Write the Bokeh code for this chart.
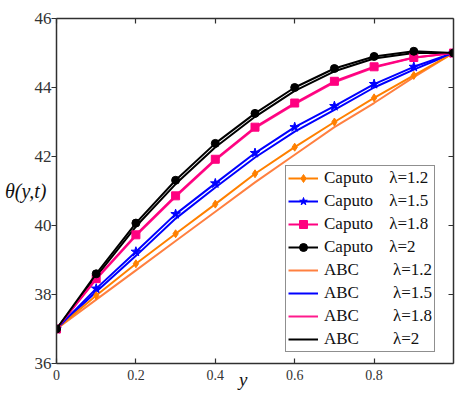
from bokeh.plotting import figure
from bokeh.models import (Range1d, LinearAxis, FixedTicker, Legend, LegendItem)
from bokeh.embed import file_html
from bokeh.resources import INLINE

# ---- data ----
y_vals = [0.0, 0.1, 0.2, 0.3, 0.4, 0.5, 0.6, 0.7, 0.8, 0.9, 1.0]

caputo_12 = [37.0, 37.97, 38.89, 39.76, 40.62, 41.50, 42.27, 43.00, 43.70, 44.35, 45.0]
caputo_15 = [37.0, 38.17, 39.24, 40.33, 41.22, 42.10, 42.85, 43.46, 44.10, 44.60, 45.0]
caputo_18 = [37.0, 38.46, 39.73, 40.86, 41.92, 42.85, 43.55, 44.18, 44.60, 44.87, 45.0]
caputo_20 = [37.0, 38.60, 40.07, 41.31, 42.38, 43.25, 44.00, 44.55, 44.90, 45.05, 45.0]

abc_12 = [37.0, 37.85, 38.70, 39.55, 40.40, 41.25, 42.05, 42.85, 43.55, 44.30, 45.0]
abc_15 = [37.0, 38.08, 39.12, 40.20, 41.10, 41.97, 42.72, 43.35, 44.00, 44.52, 45.0]
abc_18 = [37.0, 38.44, 39.70, 40.83, 41.89, 42.82, 43.52, 44.15, 44.58, 44.86, 45.0]
abc_20 = [37.0, 38.52, 39.97, 41.20, 42.27, 43.15, 43.90, 44.47, 44.84, 45.00, 45.0]

x_ticks = [0, 0.2, 0.4, 0.6, 0.8]
x_tick_labels = ["0", "0.2", "0.4", "0.6", "0.8"]
y_ticks = [36, 38, 40, 42, 44, 46]

caputo_labels = ["Caputo\u00a0\u00a0\u00a0\u2009\u03bb=1.2", "Caputo\u00a0\u00a0\u00a0\u2009\u03bb=1.5",
                 "Caputo\u00a0\u00a0\u00a0\u2009\u03bb=1.8", "Caputo\u00a0\u00a0\u00a0\u2009\u03bb=2"]
abc_labels = ["ABC" + "\u00a0" * 8 + "\u03bb=1.2", "ABC" + "\u00a0" * 8 + "\u03bb=1.5",
              "ABC" + "\u00a0" * 8 + "\u03bb=1.8", "ABC" + "\u00a0" * 8 + "\u03bb=2"]

y_axis_title = "\u03b8(y,t)"
x_axis_title = "y" + "\u00a0" * 5

# ---- styles ----
caputo_colors = ["#ff8000", "#0000ff", "#ff0080", "#000000"]
abc_colors = ["#ff8040", "#0000ff", "#ff1a8c", "#000000"]
markers = ["diamond", "star", "square", "circle"]
marker_sizes = [8, 10, 8, 8]

SERIF = "Liberation Serif"

p = figure(width=467, height=392, output_backend="svg", toolbar_location=None,
           x_range=Range1d(0, 1), y_range=Range1d(36, 46),
           min_border_left=56, min_border_right=14, min_border_top=18, min_border_bottom=28,
           x_axis_location=None, y_axis_location=None)
p.grid.visible = False
p.outline_line_color = None
p.background_fill_color = "white"
p.border_fill_color = "white"

axis_color = "#303030"

def style_axis(ax, tin, tout):
    ax.axis_line_color = axis_color
    ax.axis_line_width = 1.5
    ax.major_tick_line_color = axis_color
    ax.major_tick_line_width = 1.2
    ax.major_tick_in = tin
    ax.major_tick_out = tout
    ax.minor_tick_line_color = None
    ax.major_label_text_font = SERIF
    ax.major_label_text_color = "#333333"
    ax.axis_label_text_font = SERIF
    ax.axis_label_text_font_style = "italic"
    ax.axis_label_text_color = "#111111"

bottom = LinearAxis(ticker=FixedTicker(ticks=x_ticks), axis_label=x_axis_title)
bottom.major_label_overrides = {t: l for t, l in zip(x_ticks, x_tick_labels)}
style_axis(bottom, 5, 0)
bottom.major_label_text_font_size = "14px"
bottom.major_label_standoff = 6
bottom.axis_label_text_font_size = "19px"
bottom.axis_label_standoff = -14
p.add_layout(bottom, "below")

left = LinearAxis(ticker=FixedTicker(ticks=y_ticks), axis_label=y_axis_title)
style_axis(left, 0, 5)
left.major_label_text_font_size = "17px"
left.major_label_standoff = 0
left.axis_label_orientation = "horizontal"
left.axis_label_text_font_size = "20px"
left.axis_label_standoff = -15
p.add_layout(left, "left")

top = LinearAxis(ticker=FixedTicker(ticks=x_ticks))
style_axis(top, 5, 0)
top.major_label_text_font_size = "1px"
top.major_label_text_color = None
top.major_label_standoff = 0
p.add_layout(top, "above")

right = LinearAxis(ticker=FixedTicker(ticks=y_ticks))
style_axis(right, 5, 0)
right.major_label_text_font_size = "1px"
right.major_label_text_color = None
right.major_label_standoff = 0
p.add_layout(right, "right")

# ABC lines first (underneath)
abc_renderers = []
for data, col in zip([abc_12, abc_15, abc_18, abc_20], abc_colors):
    r = p.line(y_vals, data, line_color=col, line_width=2)
    abc_renderers.append(r)

caputo_renderers = []
for data, col, mk, ms in zip([caputo_12, caputo_15, caputo_18, caputo_20],
                             caputo_colors, markers, marker_sizes):
    rl = p.line(y_vals, data, line_color=col, line_width=2)
    rs = p.scatter(y_vals, data, marker=mk, size=ms, fill_color=col, line_color=col)
    caputo_renderers.append([rl, rs])

items = []
for lab, rr in zip(caputo_labels, caputo_renderers):
    items.append(LegendItem(label=lab, renderers=rr))
for lab, r in zip(abc_labels, abc_renderers):
    items.append(LegendItem(label=lab, renderers=[r]))

legend = Legend(items=items, location=(229, 11))
legend.label_text_font = SERIF
legend.label_text_font_size = "17px"
legend.label_text_color = "#111111"
legend.glyph_width = 30
legend.glyph_height = 20
legend.label_height = 20
legend.label_standoff = 6
legend.spacing = 3
legend.padding = 2
legend.margin = 0
legend.border_line_color = "#202020"
legend.border_line_width = 1.5
legend.background_fill_color = "white"
legend.background_fill_alpha = 1.0
p.add_layout(legend, "center")

open("out.html", "w").write(file_html(p, INLINE))
